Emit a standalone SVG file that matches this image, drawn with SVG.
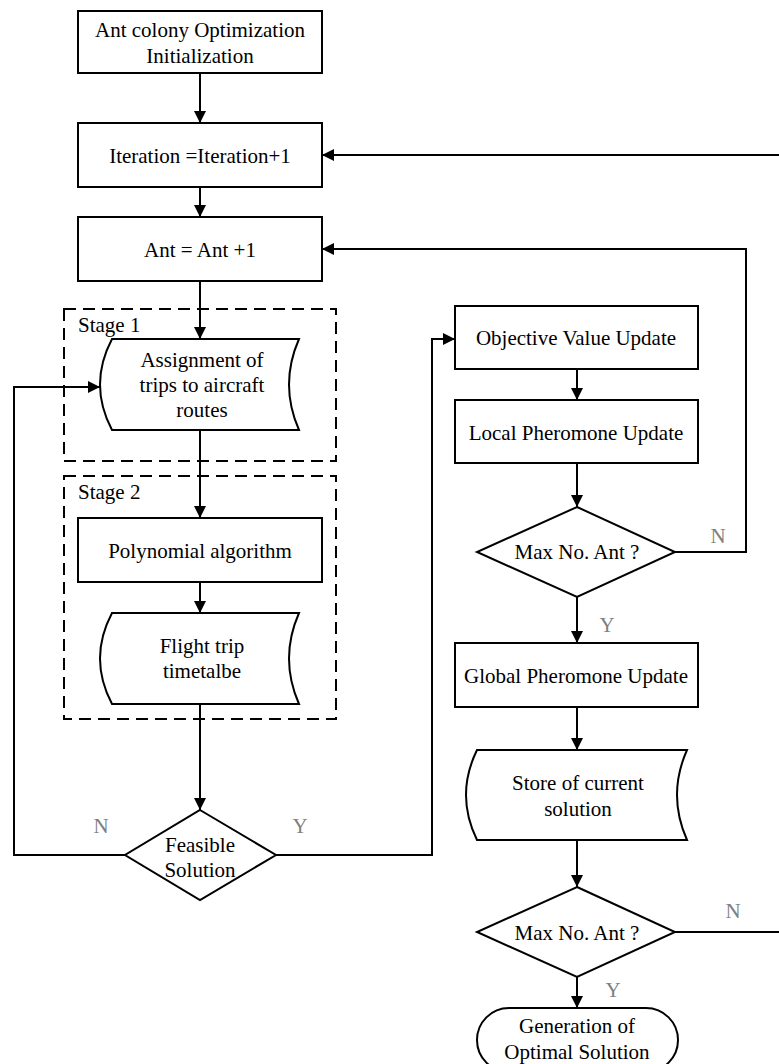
<svg xmlns="http://www.w3.org/2000/svg" width="779" height="1064" viewBox="0 0 779 1064">
<style>
.n{fill:#fff;stroke:#000;stroke-width:2}
.c{fill:none;stroke:#000;stroke-width:2}
.d{fill:none;stroke:#000;stroke-width:2;stroke-dasharray:12 7}
text{font-family:'Liberation Serif','Times New Roman',Times,'DejaVu Serif',serif;font-size:21px;fill:#000}
.m{text-anchor:middle}
.g{fill:#808080;text-anchor:middle}
</style>
<defs>
<marker id="a" viewBox="0 0 12 12" refX="12" refY="6" markerWidth="12" markerHeight="12" markerUnits="userSpaceOnUse" orient="auto">
<path d="M0,0 L12,6 L0,12 Z" fill="#000"/>
</marker>
</defs>
<rect width="779" height="1064" fill="#fff"/>
<g id="stage1"><rect class="d" x="64" y="309" width="272" height="152"/><text x="78" y="332">Stage 1</text></g>
<g id="stage2"><rect class="d" x="64" y="476" width="272" height="243"/><text x="78" y="499">Stage 2</text></g>
<g id="connectors">
<path class="c" d="M200,73 V123" marker-end="url(#a)"/>
<path class="c" d="M200,187 V217" marker-end="url(#a)"/>
<path class="c" d="M200,281 V339" marker-end="url(#a)"/>
<path class="c" d="M200,430 V518" marker-end="url(#a)"/>
<path class="c" d="M200,582 V613" marker-end="url(#a)"/>
<path class="c" d="M200,704 V810" marker-end="url(#a)"/>
<path class="c" d="M125,855 H14 V387 H100" marker-end="url(#a)"/>
<path class="c" d="M276,855 H432 V339 H455" marker-end="url(#a)"/>
<path class="c" d="M577,369 V400" marker-end="url(#a)"/>
<path class="c" d="M577,463 V507" marker-end="url(#a)"/>
<path class="c" d="M675,552 H746 V249 H322" marker-end="url(#a)"/>
<path class="c" d="M577,597 V643" marker-end="url(#a)"/>
<path class="c" d="M577,707 V750" marker-end="url(#a)"/>
<path class="c" d="M577,840 V887" marker-end="url(#a)"/>
<path class="c" d="M675,932 H790 V155 H322" marker-end="url(#a)"/>
<path class="c" d="M577,977 V1008" marker-end="url(#a)"/>
<text class="g" x="101" y="833">N</text>
<text class="g" x="300" y="833">Y</text>
<text class="g" x="718" y="543">N</text>
<text class="g" x="607" y="632">Y</text>
<text class="g" x="733" y="918">N</text>
<text class="g" x="613" y="997">Y</text>
</g>
<g id="init"><rect class="n" x="78" y="11" width="244" height="62"/><text class="m" x="200" y="37">Ant colony Optimization</text><text class="m" x="200" y="63">Initialization</text></g>
<g id="iter"><rect class="n" x="78" y="123" width="244" height="64"/><text class="m" x="200" y="163">Iteration =Iteration+1</text></g>
<g id="ant"><rect class="n" x="78" y="217" width="244" height="64"/><text class="m" x="200" y="257">Ant = Ant +1</text></g>
<g id="assign"><path class="n" d="M112,339 H299 Q279,384.5 299,430 H112 Q88,384.5 112,339 Z"/><text class="m" x="202" y="367">Assignment of</text><text class="m" x="202" y="392">trips to aircraft</text><text class="m" x="202" y="417">routes</text></g>
<g id="poly"><rect class="n" x="78" y="518" width="244" height="64"/><text class="m" x="200" y="558">Polynomial algorithm</text></g>
<g id="flight"><path class="n" d="M112,613 H299 Q279,658.5 299,704 H112 Q88,658.5 112,613 Z"/><text class="m" x="202" y="653">Flight trip</text><text class="m" x="202" y="678">timetalbe</text></g>
<g id="feasible"><path class="n" d="M200,810 L276,855 L200,900 L125,855 Z"/><text class="m" x="200" y="852">Feasible</text><text class="m" x="200" y="877">Solution</text></g>
<g id="objective"><rect class="n" x="455" y="306" width="243" height="63"/><text class="m" x="576" y="345">Objective Value Update</text></g>
<g id="local"><rect class="n" x="455" y="400" width="243" height="63"/><text class="m" x="576" y="440">Local Pheromone Update</text></g>
<g id="maxant1"><path class="n" d="M577,507 L675,552 L577,597 L477,552 Z"/><text class="m" x="577" y="559">Max No. Ant ?</text></g>
<g id="global"><rect class="n" x="455" y="643" width="243" height="64"/><text class="m" x="576" y="683">Global Pheromone Update</text></g>
<g id="store"><path class="n" d="M477,750 H687 Q667,795 687,840 H477 Q455,795 477,750 Z"/><text class="m" x="578" y="790">Store of current</text><text class="m" x="578" y="816">solution</text></g>
<g id="maxant2"><path class="n" d="M577,887 L675,932 L577,977 L477,932 Z"/><text class="m" x="577" y="940">Max No. Ant ?</text></g>
<g id="optimal"><rect class="n" x="477" y="1008" width="201" height="64" rx="32"/><text class="m" x="577" y="1033">Generation of</text><text class="m" x="577" y="1059">Optimal Solution</text></g>
</svg>
